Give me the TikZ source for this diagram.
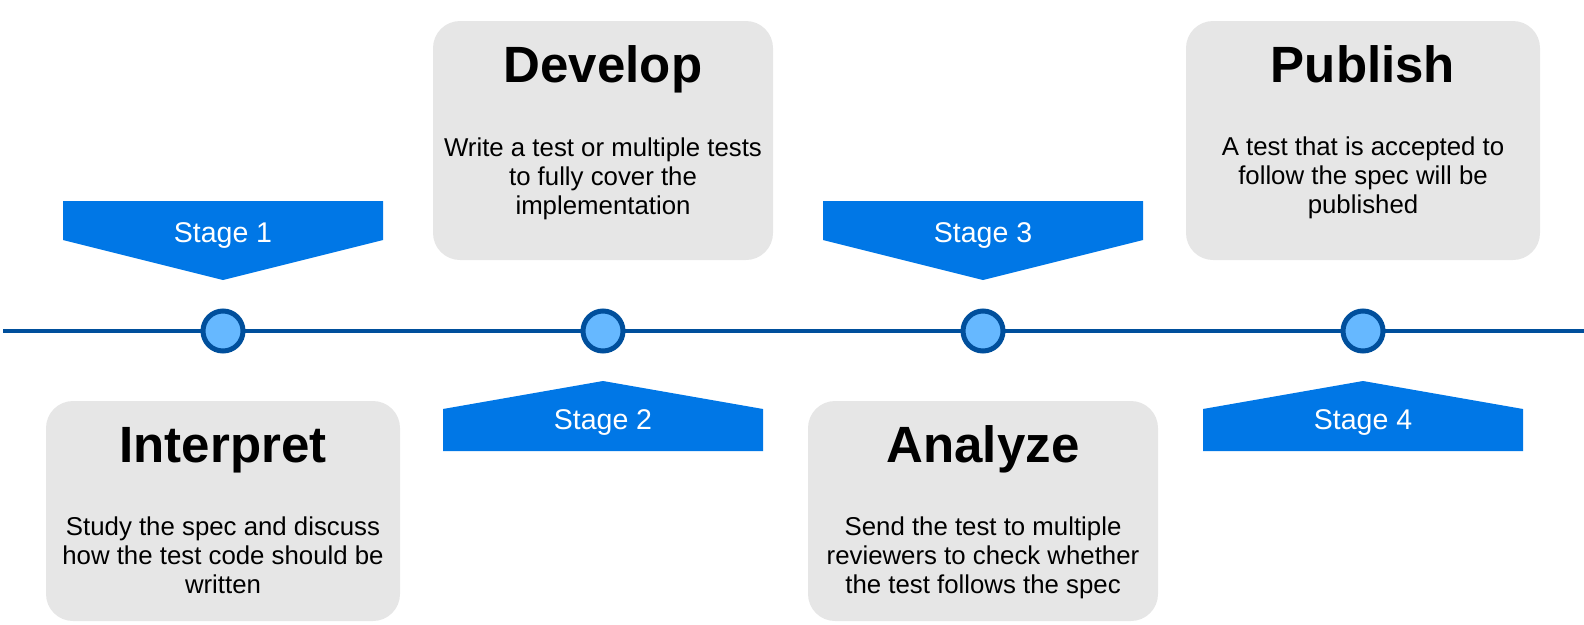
\documentclass[tikz,border=0pt]{standalone}
\usepackage{fontspec}
\setmainfont{Liberation Sans}
\definecolor{stageblue}{HTML}{0077E6}
\definecolor{lineblue}{HTML}{004F9C}
\definecolor{dotblue}{HTML}{66B8FF}
\definecolor{cardgray}{HTML}{E6E6E6}

\begin{document}
\begin{tikzpicture}[
  x=1pt, y=-1pt,
  timeline/.style={draw=lineblue, line width=4pt},
  milestone/.style={circle, minimum size=40pt, inner sep=0pt, line width=5pt, draw=lineblue, fill=dotblue},
  banner/.style={fill=stageblue},
  stagelabel/.style={anchor=base, text=white, font=\fontsize{28.5}{34}\selectfont},
  card/.style={rectangle, fill=cardgray, rounded corners=27pt, inner sep=0pt},
  cardtitle/.style={anchor=base, font=\fontsize{51}{60}\selectfont\bfseries},
  cardtext/.style={anchor=base, align=center, font=\fontsize{25.8}{29}\selectfont}
]
\useasboundingbox (0,0) rectangle (1584,624);

% cards
\node[card, minimum width=354pt, minimum height=220pt] (interpret) at (223,511) {};
\node[card, minimum width=340pt, minimum height=239pt] (develop) at (603,140.5) {};
\node[card, minimum width=350pt, minimum height=220pt] (analyze) at (983,511) {};
\node[card, minimum width=354pt, minimum height=239pt] (publish) at (1363,140.5) {};

\node[cardtitle] (interprett) at (223,462) {Interpret};
\node[cardtitle] (developt) at (603,82) {Develop};
\node[cardtitle] (analyzet) at (983,462) {Analyze};
\node[cardtitle] (publisht) at (1363,82) {Publish};

% base of a multi-line node is its last line
\node[cardtext] (interpretb) at (223,593) {Study the spec and discuss\\how the test code should be\\written};
\node[cardtext] (developb) at (603,214) {Write a test or multiple tests\\to fully cover the\\implementation};
\node[cardtext] (analyzeb) at (983,593) {Send the test to multiple\\reviewers to check whether\\the test follows the spec};
\node[cardtext] (publishb) at (1363,213) {A test that is accepted to\\follow the spec will be\\published};

% stage banners
\fill[banner] (63,201) -- (383,201) -- (383,240) -- (223,280) -- (63,240) -- cycle;
\fill[banner] (443,451) -- (763,451) -- (763,409) -- (603,381) -- (443,409) -- cycle;
\fill[banner] (823,201) -- (1143,201) -- (1143,240) -- (983,280) -- (823,240) -- cycle;
\fill[banner] (1203,451) -- (1523,451) -- (1523,409) -- (1363,381) -- (1203,409) -- cycle;

\node[stagelabel] (s1) at (223,242) {Stage 1};
\node[stagelabel] (s2) at (603,429) {Stage 2};
\node[stagelabel] (s3) at (983,242) {Stage 3};
\node[stagelabel] (s4) at (1363,429) {Stage 4};

% timeline
\coordinate (tlw) at (3,331);
\coordinate (tle) at (1584,331);
\draw[timeline] (tlw) -- (tle);

\node[milestone] (m1) at (223,331) {};
\node[milestone] (m2) at (603,331) {};
\node[milestone] (m3) at (983,331) {};
\node[milestone] (m4) at (1363,331) {};
\end{tikzpicture}
\end{document}
